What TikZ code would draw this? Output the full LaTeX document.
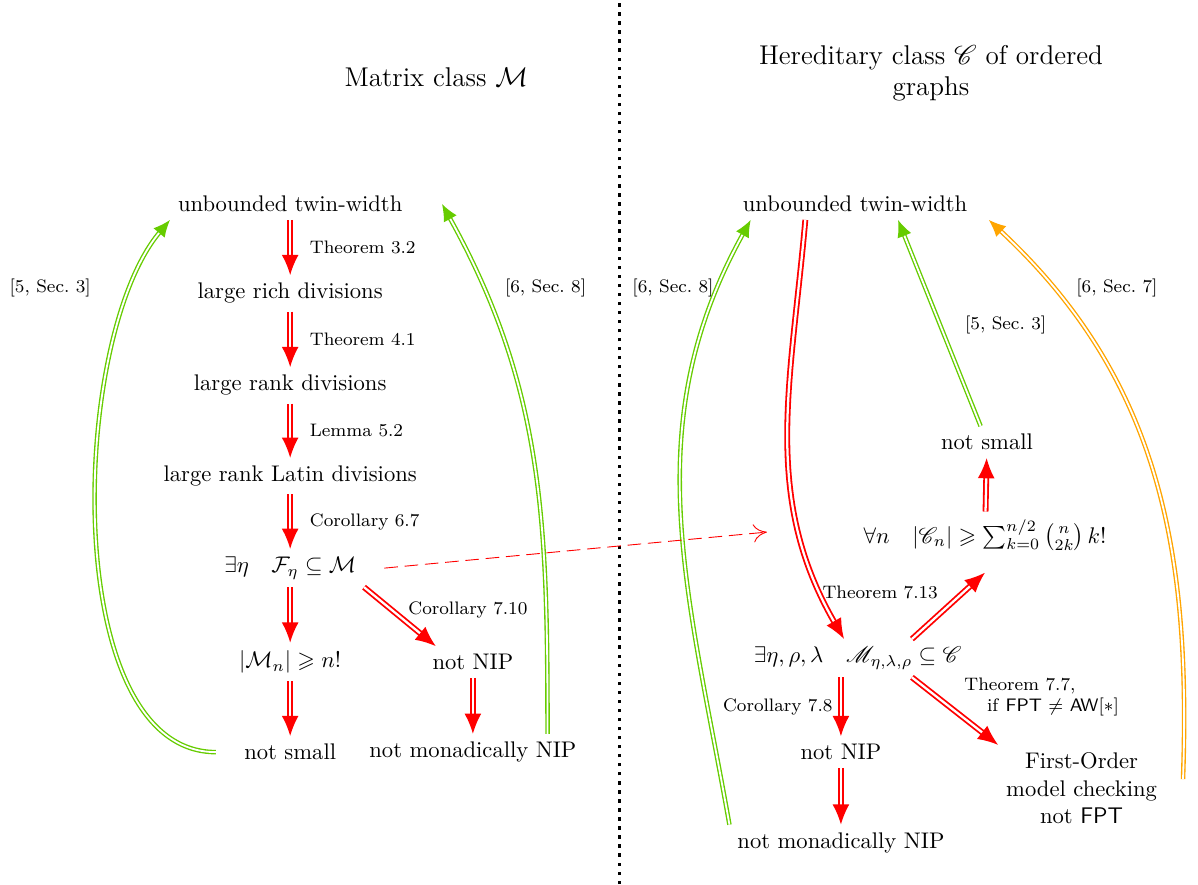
\documentclass[tikz,border=0pt]{standalone}
\usepackage{amsmath,amssymb,mathrsfs}
\usetikzlibrary{arrows.meta}
\definecolor{limegreen}{RGB}{102,204,0}
\definecolor{amber}{RGB}{255,165,0}

\begin{document}
\begin{tikzpicture}[
        imp/.style={double,draw=red,line width=0.8pt,double distance=1pt,-{Latex[length=9pt,width=7.5pt]}},
        ref/.style={double,draw=limegreen,line width=0.6pt,double distance=0.8pt,-{Latex[length=7.5pt,width=6.5pt]}},
        lab/.style={font=\footnotesize}]
        \useasboundingbox (0,0) rectangle (18.62,13.74);
        \draw[line width=1.3pt,dash pattern=on 1.5pt off 2.5pt] (9.63,0) -- (9.63,13.74);
        \node[font=\large] (titleM) at (6.78,12.54) {Matrix class $\mathcal{M}$};
        \node[font=\large,align=center] (titleC) at (14.47,12.6) {Hereditary class $\mathscr{C}$ of ordered\\ graphs};
        \node (twL) at (4.51,10.57) {unbounded twin-width};
        \node (rich) at (4.51,9.18) {large rich divisions};
        \node (rank) at (4.51,7.75) {large rank divisions};
        \node (latin) at (4.51,6.34) {large rank Latin divisions};
        \node (famF) at (4.51,4.91) {$\exists\eta\quad\mathcal{F}_\eta\subseteq\mathcal{M}$};
        \node (sizeM) at (4.51,3.45) {$|\mathcal{M}_n|\geqslant n!$};
        \node (smallL) at (4.51,2.05) {not small};
        \node (nipL) at (7.35,3.45) {not NIP};
        \node (monL) at (7.35,2.05) {not monadically NIP};
        \draw[imp] (twL) -- (rich) node[lab,midway,right,xshift=5pt] {Theorem 3.2};
        \draw[imp] (rich) -- (rank) node[lab,midway,right,xshift=5pt] {Theorem 4.1};
        \draw[imp] (rank) -- (latin) node[lab,midway,right,xshift=5pt] {Lemma 5.2};
        \draw[imp] (latin) -- (famF) node[lab,midway,right,xshift=5pt] {Corollary 6.7};
        \draw[imp] (famF) -- (sizeM);
        \draw[imp] (sizeM) -- (smallL);
        \draw[imp] (famF.south east) -- ([xshift=5pt]nipL.north west) node[lab,midway,right,yshift=3pt] {Corollary 7.10};
        \draw[imp] (nipL) -- (monL);
        \draw[ref] ([xshift=-9pt]smallL.west) to[out=180,in=-130,looseness=0.75] (twL.south west);
        \draw[ref] ([xshift=33pt]monL.north) to[out=90,in=-61] ([xshift=14pt]twL.east);
        \node[lab] (refA) at (0.78,9.26) {[5, Sec.~3]};
        \node[lab] (refB) at (8.48,9.26) {[6, Sec.~8]};
        \node (twR) at (13.29,10.57) {unbounded twin-width};
        \node (smallR) at (15.34,6.87) {not small};
        \node (sumC) at (15.31,5.42) {$\forall n\quad|\mathscr{C}_n|\geqslant\sum_{k=0}^{n/2}\binom{n}{2k}\,k!$};
        \node (famM) at (13.33,3.51) {$\exists\eta,\rho,\lambda\quad\mathscr{M}_{\eta,\lambda,\rho}\subseteq\mathscr{C}$};
        \node (nipR) at (13.07,2.05) {not NIP};
        \node (monR) at (13.07,0.64) {not monadically NIP};
        \node[align=center] (fo) at (16.81,1.49) {First-Order\\ model checking\\ not \textsf{FPT}};
        \coordinate (dashEnd) at (11.92,5.47);
        \draw[imp] ([xshift=-22pt]twR.south) to[out=-95,in=120] ([xshift=-6pt]famM.north);
        \draw[imp] ([xshift=24pt]famM.north) -- ([yshift=-6pt]sumC.south);
        \draw[imp] (sumC) -- (smallR);
        \draw[imp] ([xshift=24pt]famM.south) -- (fo.north west);
        \draw[imp] (nipR |- famM.south) -- (nipR) node[lab,midway,left] {Corollary 7.8};
        \draw[imp] (nipR) -- (monR);
        \draw[ref] (monR.north west) to[out=100,in=-119] ([xshift=7pt]twR.south west);
        \draw[ref] (smallR) -- ([xshift=19pt]twR.south);
        \draw[ref,draw=amber] ([xshift=8pt,yshift=4pt]fo.east) to[out=88,in=-43] ([xshift=6pt]twR.south east);
        \draw[red,dashed,dash pattern=on 6pt off 3pt,-{To[length=6pt,width=8pt]}] ([xshift=9pt]famF.east) -- (dashEnd);
        \node[lab] (thmA) at (13.68,4.54) {Theorem 7.13};
        \node[lab,align=left] (thmB) at (16.19,2.91) {Theorem 7.7,\\ \hspace*{10pt}if \textsf{FPT} $\neq$ \textsf{AW}[$*$]};
        \node[lab] (refC) at (10.46,9.26) {[6, Sec.~8]};
        \node[lab] (refD) at (15.63,8.69) {[5, Sec.~3]};
        \node[lab] (refE) at (17.36,9.26) {[6, Sec.~7]};
\end{tikzpicture}
\end{document}
